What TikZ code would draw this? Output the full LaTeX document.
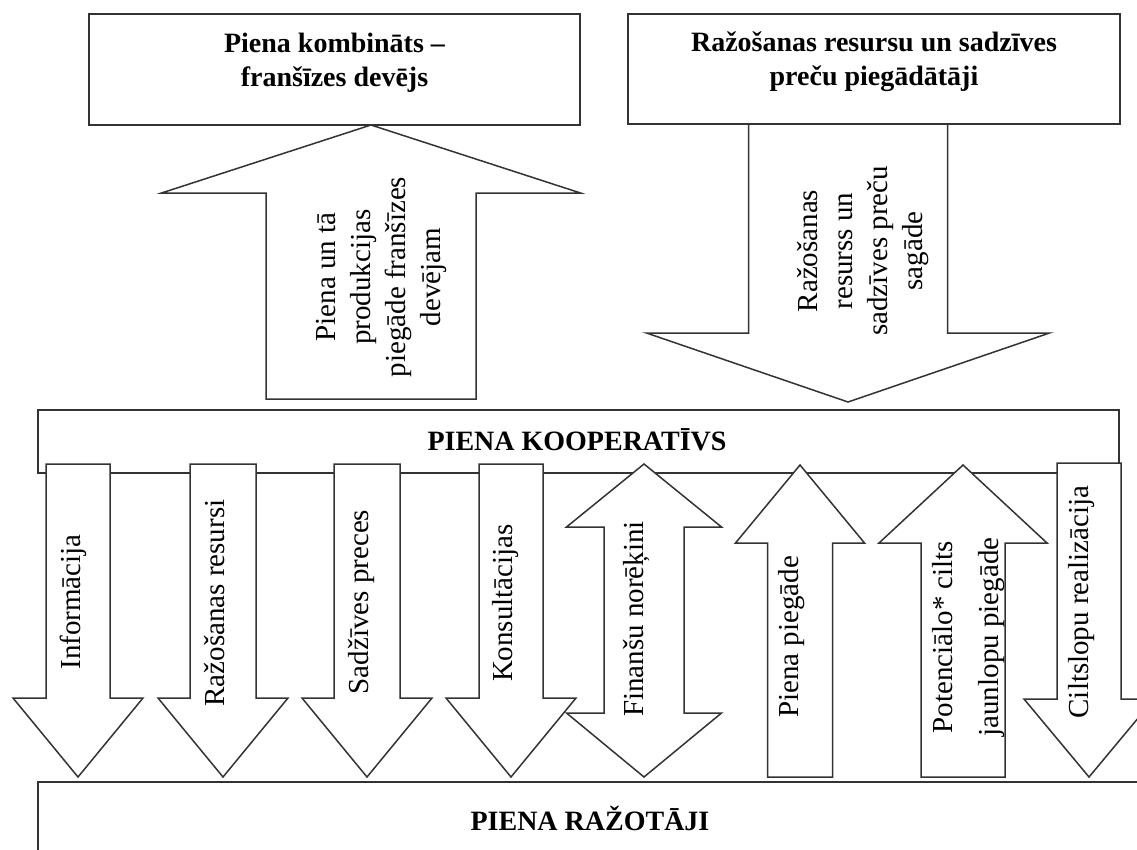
\documentclass[tikz,border=0pt]{standalone}
\usepackage{fontspec}
\setmainfont{Liberation Serif}
% block arrow: cx, half shaft, half head, shaft end, head base, tip
\newcommand\blkarrow[6]{%
  \draw[blk] ({#1-#2},#4) -- ({#1+#2},#4) -- ({#1+#2},#5) -- ({#1+#3},#5) -- (#1,#6)
    -- ({#1-#3},#5) -- ({#1-#2},#5) -- cycle;}
\begin{document}
\begin{tikzpicture}[x=1pt,y=-1pt,
  lc/.style={draw=black!80, line width=1.5pt, line join=miter},
  box/.style={lc, fill=white, rectangle, inner sep=0pt, outer sep=0pt, anchor=north west},
  blk/.style={lc, fill=white},
  hd/.style={font=\bfseries\fontsize{28}{34}\selectfont, inner sep=0pt, align=center},
  rl/.style={font=\fontsize{29}{35}\selectfont, inner sep=0pt, rotate=90, anchor=base},
  rlm/.style={font=\fontsize{29}{35}\selectfont, inner sep=0pt, rotate=90, align=center}]
\useasboundingbox (0,0) rectangle (1137,849);
\clip (0,0) rectangle (1137,849);

% top boxes
\node[box, minimum width=491pt, minimum height=111pt] (fr) at (89,14) {};
\node[box, minimum width=492pt, minimum height=110pt] (sup) at (628,14) {};
\node[hd] (frt) at (334.5,63) {Piena kombināts --\\franšīzes devējs};
\node[hd] (supt) at (874,62) {Ražošanas resursu un sadzīves\\preču piegādātāji};

% cooperative and producers
\node[box, minimum width=1081pt, minimum height=63pt] (coop) at (38,410) {};
\node[box, minimum width=1130pt, minimum height=120pt] (prod) at (38,782) {};
\node[hd, anchor=base] (coopt) at (577,450) {PIENA KOOPERATĪVS};
\node[hd, anchor=base] (prodt) at (590,830) {PIENA RAŽOTĀJI};

% big arrows between top boxes and cooperative
\blkarrow{371}{105}{209.5}{399}{193}{125}
\node[rlm] (upt) at (381,277) {Piena un tā\\produkcijas\\piegāde franšīzes\\devējam};
\blkarrow{848}{99.5}{201.5}{124}{333}{402}
\node[rlm] (dnt) at (863,251) {Ražošanas\\resurss un\\sadzīves preču\\sagāde};

% small arrows between cooperative and producers
\blkarrow{78}{32}{65}{464}{698}{777}
\node[rl] (a1) at (80,602) {Informācija};
\blkarrow{223}{33}{65}{464}{698}{777}
\node[rl] (a2) at (224,603) {Ražošanas resursi};
\blkarrow{367}{33}{65}{464}{698}{777}
\node[rl] (a3) at (368,602) {Sadžīves preces};
\blkarrow{511}{32}{65}{464}{698}{777}
\node[rl] (a4) at (512,603) {Konsultācijas};
\draw[blk] (644,464) -- (721.5,527) -- (684,527) -- (684,713) -- (721.5,713) -- (644,777)
  -- (566.5,713) -- (604,713) -- (604,527) -- (566.5,527) -- cycle;
\node[rl] (a5) at (643,619) {Finanšu norēķini};
\blkarrow{800}{32.5}{64.5}{777}{543}{465}
\node[rl] (a6) at (798,637) {Piena piegāde};
\blkarrow{963}{42}{84}{777}{543}{465}
\node[rlm] (a7) at (969,637) {Potenciālo* cilts\\[11pt]jaunlopu piegāde};
\blkarrow{1089}{32}{65}{463}{699}{777}
\node[rl] (a8) at (1088,602) {Ciltslopu realizācija};
\end{tikzpicture}
\end{document}
